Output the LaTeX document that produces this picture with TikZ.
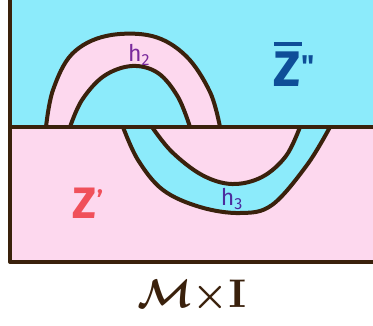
\documentclass[tikz,border=0pt]{standalone}
\usepackage{fontspec}
\setsansfont{Fira Sans}
\usepackage{xcolor}
\definecolor{sky}{HTML}{8CEBFB}
\definecolor{blush}{HTML}{FDD8EE}
\definecolor{ink}{HTML}{3A210C}
\definecolor{zred}{HTML}{F0505A}
\definecolor{zblue}{HTML}{0E4E98}
\definecolor{hpurple}{HTML}{7A2A9C}
\definecolor{hindigo}{HTML}{4B2C9E}

\begin{document}
\begin{tikzpicture}[x=1pt,y=-1pt,
    edge/.style={draw=ink,line width=4pt,line cap=round,line join=round},
    handle/.style={font=\sffamily\fontsize{23}{23}\selectfont}]
  \clip (0,0) rectangle (373,325);
  % the two layers of the slab
  \fill[sky] (10,-5) rectangle (380,127);
  \fill[blush] (10,127) rectangle (380,262);
  % handle h2, pink, in the upper layer
  \fill[blush] plot[smooth,tension=0.6] coordinates {(46,127) (53,90) (72,54) (106,36) (152,36) (186,56) (210,92) (220,127)}
    -- (190,127) plot[smooth,tension=0.6] coordinates {(190,127) (178,97) (158,73) (132,66) (104,76) (82,100) (70,127)} -- cycle;
  \draw[edge] plot[smooth,tension=0.6] coordinates {(46,127) (53,90) (72,54) (106,36) (152,36) (186,56) (210,92) (220,127)};
  \draw[edge] plot[smooth,tension=0.6] coordinates {(70,127) (82,100) (104,76) (132,66) (158,73) (178,97) (190,127)};
  % handle h3, blue, in the lower layer
  \fill[sky] plot[smooth,tension=0.6] coordinates {(123,127) (138,160) (163,190) (200,207) (240,213) (272,205) (307,165) (330,127)}
    -- (300,127) plot[smooth,tension=0.6] coordinates {(300,127) (286,156) (262,177) (232,184) (202,175) (172,152) (152,127)} -- cycle;
  \draw[edge] plot[smooth,tension=0.6] coordinates {(123,127) (138,160) (163,190) (200,207) (240,213) (272,205) (307,165) (330,127)};
  \draw[edge] plot[smooth,tension=0.6] coordinates {(152,127) (172,152) (202,175) (232,184) (262,177) (286,156) (300,127)};
  % frame
  \draw[edge] (10,-5) -- (10,262) -- (380,262);
  \draw[edge] (10,127) -- (380,127);
  % labels
  \node[handle,text=hpurple] (h2) at (139,55) {h\textsubscript{2}};
  \node[handle,text=hindigo] (h3) at (232,199) {h\textsubscript{3}};
  \node[text=zblue,font=\sffamily\bfseries\fontsize{50}{50}\selectfont] (zpp) at (294,64) {\rlap{\rule[0.8em]{0.56em}{0.09em}}Z\raisebox{0.2em}{\fontsize{30}{30}\selectfont\textquotedbl}};
  \node[text=zred,font=\sffamily\bfseries\fontsize{44}{44}\selectfont] (zp) at (88,203) {Z\raisebox{0.2em}{\fontsize{26}{26}\selectfont '}};
  \node[text=ink] (mi) at (192,296) {\scalebox{4}{\boldmath$\mathcal{M}{\times}\mathbf{I}$}};
\end{tikzpicture}
\end{document}
